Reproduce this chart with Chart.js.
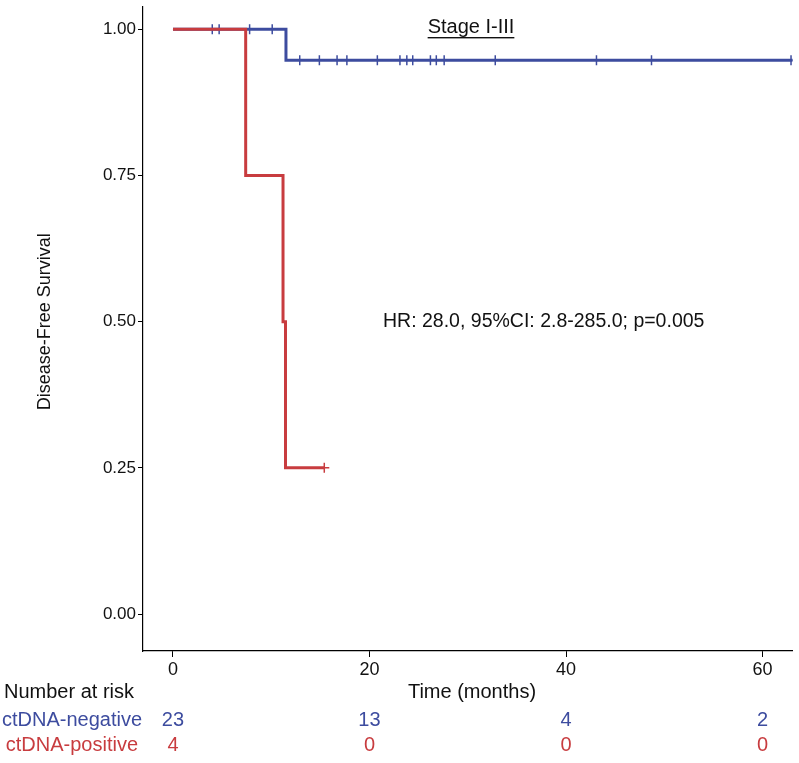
<!DOCTYPE html>
<html>
<head>
<meta charset="utf-8">
<script src="https://cdn.jsdelivr.net/npm/chart.js@4"></script>
<style>
  html, body { margin: 0; padding: 0; background: #fff; }
  #km { display: block; }
</style>
</head>
<body>
<canvas id="km" width="799" height="763"></canvas>
<script>
const BLUE = '#3d4c9f';
const RED = '#c83c3f';

// Kaplan-Meier steps (time in months, survival)
const negSteps = [[0, 1], [11.5, 0.947], [63.1, 0.947]];
const posSteps = [[0, 1], [7.4, 0.75], [11.2, 0.5], [11.45, 0.25], [15.4, 0.25]];

// censored observations
const negCensorAt1 = [4.0, 4.7, 7.8, 10.1];
const negCensorLow = [12.9, 14.9, 16.7, 17.7, 20.8, 23.1, 23.8, 24.4, 26.2, 26.8, 27.6, 32.8, 43.1, 48.7, 62.9];
const posCensor = [15.4];

// number at risk table
const riskTimes = [0, 20, 40, 60];
const riskNeg = [23, 13, 4, 2];
const riskPos = [4, 0, 0, 0];
const groups = ['ctDNA-negative', 'ctDNA-positive'];

const xTicks = [0, 20, 40, 60];
const yTicks = [0, 0.25, 0.5, 0.75, 1];

const FONT = 'Liberation Sans, Arial, Helvetica, sans-serif';

const textPlugin = {
  id: 'kmText',
  afterDraw(chart) {
    const ctx = chart.ctx;
    const xs = chart.scales.x;
    const ys = chart.scales.y;
    ctx.save();
    ctx.fillStyle = '#111';
    ctx.textBaseline = 'middle';

    // y axis title
    ctx.font = '18px ' + FONT;
    ctx.save();
    ctx.translate(45, ys.getPixelForValue(0.5));
    ctx.rotate(-Math.PI / 2);
    ctx.textAlign = 'center';
    ctx.fillText('Disease-Free Survival', 0, 0);
    ctx.restore();

    ctx.font = '20px ' + FONT;
    // stage label, underlined
    ctx.textAlign = 'center';
    const sx = 471, sy = 27;
    ctx.fillText('Stage I-III', sx, sy);
    const w = ctx.measureText('Stage I-III').width;
    ctx.fillRect(sx - w / 2, sy + 10, w, 1.4);

    // HR annotation
    ctx.font = '19.5px ' + FONT;
    ctx.textAlign = 'left';
    ctx.fillText('HR: 28.0, 95%CI: 2.8-285.0; p=0.005', 383, ys.getPixelForValue(0.5));

    // x axis title
    ctx.font = '20px ' + FONT;
    ctx.textAlign = 'center';
    ctx.fillText('Time (months)', 472, 692);

    // risk table
    ctx.textAlign = 'left';
    ctx.fillText('Number at risk', 4, 692);
    const rows = [[riskNeg, BLUE, 720], [riskPos, RED, 745]];
    rows.forEach(([vals, col, y], i) => {
      ctx.fillStyle = col;
      ctx.textAlign = 'right';
      ctx.fillText(groups[i], i === 0 ? 142 : 138, y);
      ctx.textAlign = 'center';
      vals.forEach((v, j) => ctx.fillText(String(v), xs.getPixelForValue(riskTimes[j]), y));
    });
    ctx.restore();
  }
};

new Chart(document.getElementById('km'), {
  type: 'line',
  data: {
    datasets: [
      {
        data: negSteps.map(([x, y]) => ({x, y})),
        borderColor: BLUE, borderWidth: 3, stepped: true,
        pointRadius: 0, order: 3
      },
      {
        type: 'scatter',
        data: negCensorAt1.map(x => ({x, y: 1})).concat(negCensorLow.map(x => ({x, y: 0.947}))),
        pointStyle: 'cross', pointRadius: 5, borderColor: BLUE, borderWidth: 1.5,
        backgroundColor: BLUE, order: 2
      },
      {
        data: posSteps.map(([x, y]) => ({x, y})),
        borderColor: RED, borderWidth: 3, stepped: true,
        pointRadius: 0, order: 1
      },
      {
        type: 'scatter',
        data: posCensor.map(x => ({x, y: 0.25})),
        pointStyle: 'cross', pointRadius: 5, borderColor: RED, borderWidth: 1.5,
        backgroundColor: RED, order: 0
      }
    ]
  },
  options: {
    responsive: false,
    animation: false,
    layout: { padding: 0 },
    plugins: { legend: { display: false }, tooltip: { enabled: false } },
    scales: {
      x: {
        type: 'linear', min: -3.05, max: 63.05,
        afterBuildTicks: s => { s.ticks = xTicks.map(v => ({value: v})); },
        afterFit: s => { s.height = 112; s.paddingLeft = 0; s.paddingRight = 0; },
        grid: { drawOnChartArea: false, drawTicks: true, tickLength: 6, color: '#000' },
        border: { display: true, color: '#000', width: 1.2 },
        ticks: { color: '#111', font: { size: 18, family: FONT }, padding: 2, maxRotation: 0 }
      },
      y: {
        type: 'linear', min: -0.0632, max: 1.039,
        afterBuildTicks: s => { s.ticks = yTicks.map(v => ({value: v})); },
        afterFit: s => { s.width = 143; s.paddingTop = 0; s.paddingBottom = 0; },
        grid: { drawOnChartArea: false, drawTicks: true, tickLength: 5, color: '#000' },
        border: { display: true, color: '#000', width: 1.2 },
        ticks: { color: '#111', font: { size: 17, family: FONT }, padding: 2,
          callback: v => v.toFixed(2) }
      }
    }
  },
  plugins: [textPlugin]
});
</script>
</body>
</html>
